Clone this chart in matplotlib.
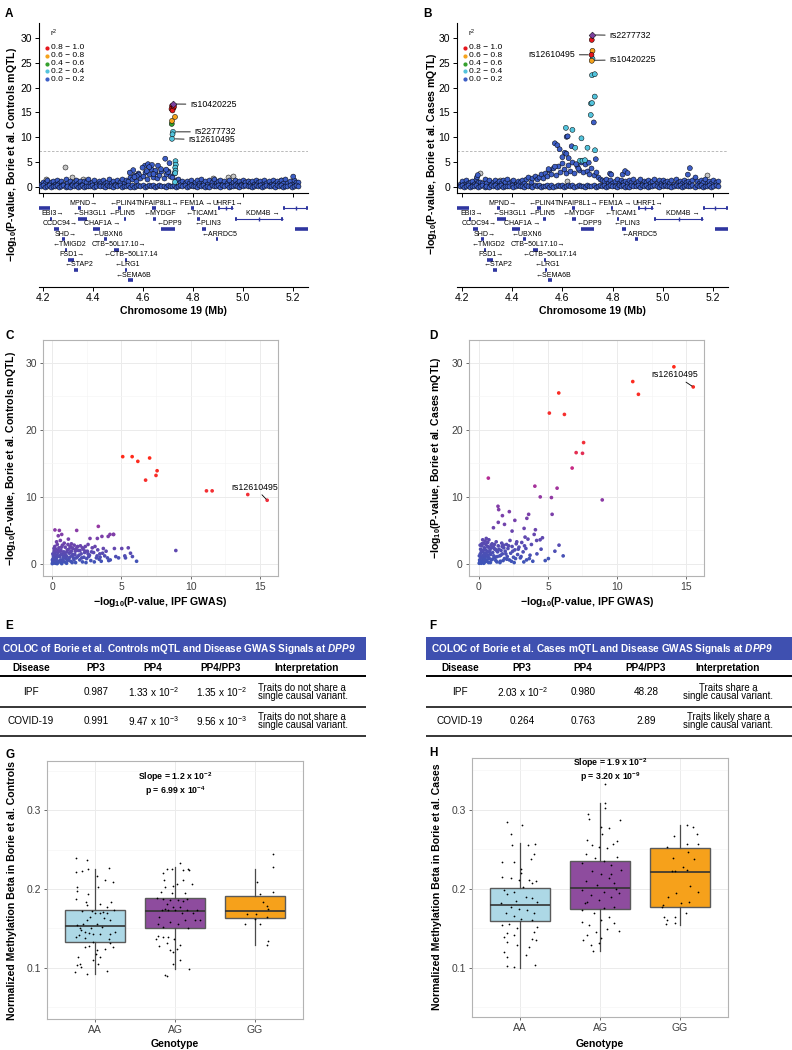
import numpy as np
import matplotlib
matplotlib.use("Agg")
import matplotlib.pyplot as plt
from matplotlib.colors import LinearSegmentedColormap
from matplotlib.patches import Rectangle

plt.rcParams['font.family'] = ['Liberation Sans', 'DejaVu Sans']
plt.rcParams['mathtext.fontset'] = 'custom'
plt.rcParams['mathtext.rm'] = 'Liberation Sans'
plt.rcParams['mathtext.it'] = 'Liberation Sans:italic'
plt.rcParams['mathtext.bf'] = 'Liberation Sans:bold'
plt.rcParams['mathtext.bfit'] = 'Liberation Sans:italic:bold'

# ---------------------------------------------------------------- data
# A/B: background SNPs (two layers), Mb and -log10 p
band_pos = [4.191, 4.199, 4.206, 4.216, 4.224, 4.231, 4.241, 4.248, 4.256, 4.265,
            4.273, 4.281, 4.290, 4.297, 4.306, 4.315, 4.322, 4.331, 4.339, 4.347,
            4.356, 4.364, 4.372, 4.381, 4.389, 4.398, 4.405, 4.414, 4.423, 4.430,
            4.439, 4.447, 4.456, 4.464, 4.473, 4.480, 4.489, 4.497, 4.506, 4.514,
            4.522, 4.531, 4.539, 4.548, 4.556, 4.564, 4.573, 4.581, 4.589, 4.598,
            4.606, 4.615, 4.623, 4.631, 4.640, 4.648, 4.657, 4.665, 4.673, 4.682,
            4.690, 4.698, 4.707, 4.715, 4.724, 4.732, 4.740, 4.749, 4.757, 4.766,
            4.774, 4.782, 4.791, 4.799, 4.808, 4.816, 4.824, 4.833, 4.841, 4.850,
            4.858, 4.866, 4.875, 4.883, 4.892, 4.900, 4.908, 4.917, 4.925, 4.934,
            4.942, 4.950, 4.959, 4.967, 4.976, 4.984, 4.992, 5.001, 5.009, 5.018,
            5.026, 5.034, 5.043, 5.051, 5.060, 5.068, 5.076, 5.085, 5.093, 5.102,
            5.110, 5.118, 5.127, 5.135, 5.144, 5.152, 5.160, 5.169, 5.177, 5.186,
            5.194, 5.202, 5.211, 5.219]
band_lo = [0.12, 0.31, 0.05, 0.22, 0.40, 0.08, 0.27, 0.15, 0.35, 0.03,
           0.19, 0.42, 0.10, 0.28, 0.06, 0.33, 0.17, 0.44, 0.09, 0.25,
           0.38, 0.04, 0.21, 0.30, 0.13, 0.41, 0.07, 0.26, 0.36, 0.11,
           0.24, 0.02, 0.39, 0.16, 0.29, 0.08, 0.43, 0.20, 0.34, 0.06,
           0.27, 0.14, 0.37, 0.10, 0.31, 0.05, 0.23, 0.40, 0.18, 0.33,
           0.09, 0.28, 0.45, 0.12, 0.36, 0.04, 0.25, 0.41, 0.15, 0.30,
           0.07, 0.38, 0.22, 0.11, 0.34, 0.03, 0.27, 0.43, 0.16, 0.32,
           0.08, 0.24, 0.39, 0.13, 0.29, 0.05, 0.35, 0.19, 0.42, 0.10,
           0.26, 0.06, 0.37, 0.21, 0.14, 0.40, 0.09, 0.31, 0.17, 0.44,
           0.04, 0.28, 0.12, 0.36, 0.23, 0.07, 0.33, 0.18, 0.41, 0.11,
           0.30, 0.05, 0.25, 0.39, 0.15, 0.34, 0.08, 0.27, 0.43, 0.13,
           0.22, 0.37, 0.06, 0.32, 0.19, 0.40, 0.10, 0.29, 0.14, 0.35,
           0.07, 0.24, 0.38, 0.16]
ctrl_band_hi = [0.62, 1.05, 0.78, 1.35, 0.55, 0.92, 1.20, 0.70, 1.48, 0.85,
                1.12, 0.66, 1.58, 0.90, 1.28, 0.58, 1.02, 1.40, 0.75, 1.15,
                0.68, 1.30, 0.95, 1.62, 0.72, 1.08, 1.45, 0.60, 1.22, 0.88,
                1.36, 0.74, 1.10, 1.55, 0.82, 1.25, 0.64, 1.42, 0.98, 1.70,
                0.86, 1.38, 1.15, 2.05, 1.60, 2.40, 1.30, 2.80, 1.85, 2.20,
                3.10, 1.70, 2.60, 3.60, 2.10, 3.05, 1.75, 2.45, 3.30, 1.90,
                2.70, 3.20, 2.25, 1.95, 2.90, 1.40, 1.65, 0.95, 1.28, 0.72,
                1.18, 0.80, 1.44, 0.63, 1.06, 1.32, 0.77, 1.52, 0.90, 1.21,
                0.69, 1.37, 0.96, 1.60, 0.74, 1.13, 1.46, 0.58, 1.27, 0.87,
                1.34, 0.71, 1.09, 1.50, 0.83, 1.24, 0.65, 1.41, 0.99, 1.17,
                0.76, 1.29, 0.61, 1.47, 0.93, 1.19, 0.70, 1.36, 0.84, 1.25,
                0.67, 1.43, 0.91, 1.16, 0.74, 1.33, 0.88, 1.52, 0.79, 1.22,
                0.69, 1.38, 0.95, 1.10]
case_band_hi = [0.70, 1.12, 0.60, 1.40, 0.85, 1.02, 1.28, 0.66, 1.55, 0.93,
                1.05, 0.72, 1.62, 0.88, 1.34, 0.64, 1.10, 1.48, 0.80, 1.20,
                0.74, 1.36, 1.02, 1.58, 0.78, 1.14, 1.50, 0.68, 1.30, 0.95,
                1.42, 0.80, 1.65, 1.95, 1.05, 1.80, 2.30, 1.55, 2.10, 2.60,
                1.90, 2.85, 2.20, 3.40, 2.70, 3.90, 2.50, 4.30, 3.10, 4.80,
                3.60, 2.90, 4.50, 3.30, 5.10, 2.80, 4.20, 3.50, 5.00, 3.00,
                4.60, 3.20, 2.60, 3.80, 2.40, 3.10, 2.00, 1.70, 1.45, 1.20,
                1.55, 0.90, 1.38, 0.74, 1.22, 1.60, 0.85, 1.35, 1.05, 1.28,
                0.78, 1.45, 1.02, 1.70, 0.82, 1.20, 1.52, 0.66, 1.30, 0.94,
                1.40, 0.78, 1.15, 1.58, 0.90, 1.32, 0.72, 1.48, 1.06, 1.24,
                0.84, 1.36, 0.68, 1.55, 1.00, 1.26, 0.78, 1.42, 0.92, 1.30,
                0.74, 1.50, 1.98, 1.22, 0.82, 1.40, 0.95, 1.60, 0.86, 1.28,
                0.75, 1.44, 1.02, 1.16]

# A: SNPs with LD class (0: 0-0.2 ... 4: 0.8-1.0)
ctrl_pos = [4.716, 4.720, 4.714, 4.722, 4.718, 4.724,
            4.716, 4.728, 4.715,
            4.720, 4.718, 4.716,
            4.730, 4.731, 4.729, 4.730, 4.729, 4.728,
            4.608, 4.620, 4.636, 4.660, 4.689, 4.706, 4.561, 4.547, 4.650, 4.598,
            4.672, 4.583, 4.700, 4.625, 5.201, 4.642, 4.615, 4.693, 4.575, 4.566]
ctrl_logp = [16.3, 16.0, 15.7, 15.9, 15.4, 16.2,
             13.3, 14.1, 12.7,
             11.1, 10.6, 9.7,
             5.2, 4.5, 3.9, 3.3, 2.8, 1.0,
             4.3, 4.6, 4.45, 4.3, 5.7, 4.8, 3.4, 2.9, 3.3, 3.9,
             3.6, 2.5, 3.0, 4.0, 2.1, 2.6, 3.2, 3.5, 2.2, 2.0]
ctrl_ld = [4, 4, 4, 4, 4, 4,
           3, 3, 2,
           1, 1, 1,
           1, 1, 1, 1, 1, 1,
           0, 0, 0, 0, 0, 0, 0, 0, 0, 0,
           0, 0, 0, 0, 0, 0, 0, 0, 0, 0]
ctrl_grey_pos = [4.288, 4.210, 4.315, 4.940, 4.960, 5.020, 4.240, 4.360, 4.880, 5.150]
ctrl_grey_logp = [3.96, 1.6, 2.1, 2.1, 2.2, 1.3, 1.1, 1.7, 1.8, 1.4]
ctrl_lead = (4.719, 16.7)

# B
case_pos = [4.717, 4.720, 4.716, 4.720, 4.717,
            4.718, 4.729, 4.729, 4.714, 4.718, 4.713,
            4.725,
            4.614, 4.640, 4.617, 4.621, 4.676, 4.570, 4.580, 4.637, 4.651, 4.589,
            4.700, 4.730, 4.610, 4.616, 4.733, 4.570, 4.670, 4.680, 4.690, 4.664,
            5.108, 5.100, 4.260, 4.263, 4.790, 4.795, 4.840, 4.850, 4.860, 4.545,
            4.600, 4.625, 4.655, 4.705]
case_logp = [29.6, 27.4, 26.6, 25.8, 25.4,
             22.5, 22.7, 18.2, 16.8, 16.9, 14.5,
             13.0,
             11.9, 11.5, 10.1, 10.2, 9.8, 8.8, 8.4, 8.2, 7.9, 7.6,
             7.9, 7.4, 6.9, 6.7, 5.6, 4.1, 5.3, 5.3, 5.4, 3.7,
             3.8, 2.5, 2.0, 2.4, 2.7, 2.5, 2.5, 3.2, 2.8, 3.6,
             6.0, 5.8, 4.6, 4.9]
case_ld = [4, 3, 4, 1, 3,
           1, 1, 1, 1, 1, 1,
           0,
           1, 1, 0, 0, 1, 0, 0, 0, 1, 0,
           1, 1, 0, 0, 0, 0, 1, 1, 1, 0,
           0, 0, 0, 0, 0, 0, 0, 0, 0, 0,
           0, 0, 0, 0]
case_grey_pos = [4.270, 5.175, 4.255, 4.620, 5.000, 4.350]
case_grey_logp = [2.75, 2.4, 1.4, 1.2, 1.1, 1.5]
case_lead = (4.719, 30.6)

ld_labels = ["0.8 \u2212 1.0", "0.6 \u2212 0.8", "0.4 \u2212 0.6", "0.2 \u2212 0.4", "0.0 \u2212 0.2"]

# gene track
gene_name = ["", "MPND\u2192", "\u2190PLIN4", "TNFAIP8L1\u2192", "FEM1A \u2192", "UHRF1\u2192", "",
             "EBI3\u2192", "\u2190SH3GL1", "\u2190PLIN5", "\u2190MYDGF", "\u2190TICAM1", "KDM4B \u2192",
             "CCDC94\u2192", "CHAF1A \u2192", "\u2190DPP9", "\u2190PLIN3", "",
             "SHD\u2192", "\u2190UBXN6", "\u2190ARRDC5",
             "\u2190TMIGD2", "CTB\u221250L17.10\u2192",
             "FSD1\u2192", "\u2190CTB\u221250L17.14",
             "\u2190STAP2", "\u2190LRG1",
             "\u2190SEMA6B"]
gene_start = [4.180, 4.340, 4.500, 4.637, 4.793, 4.900, 5.160,
              4.227, 4.340, 4.523, 4.640, 4.816, 4.967,
              4.243, 4.400, 4.673, 4.837, 5.207,
              4.277, 4.443, 4.891,
              4.289, 4.483,
              4.300, 4.527,
              4.323, 4.529,
              4.541]
gene_end = [4.227, 4.353, 4.513, 4.650, 4.803, 4.960, 5.260,
            4.237, 4.376, 4.533, 4.653, 4.827, 5.160,
            4.264, 4.430, 4.727, 4.853, 5.260,
            4.288, 4.456, 4.901,
            4.297, 4.504,
            4.323, 4.536,
            4.341, 4.537,
            4.560]
gene_row = [0, 0, 0, 0, 0, 0, 0, 1, 1, 1, 1, 1, 1, 2, 2, 2, 2, 2,
            3, 3, 3, 4, 4, 5, 5, 6, 6, 7]
gene_lab_x = [4.200, 4.360, 4.520, 4.658, 4.811, 4.940, 5.200,
              4.238, 4.388, 4.517, 4.667, 4.834, 5.079,
              4.269, 4.438, 4.707, 4.859, 5.200,
              4.289, 4.459, 4.907,
              4.307, 4.503,
              4.315, 4.550,
              4.342, 4.539,
              4.563]

# C/D: (-log10 p IPF GWAS, -log10 p controls mQTL, -log10 p cases mQTL)
ipf_snps = [(15.52, 9.5, 26.4), (14.12, 10.35, 29.4), (11.14, 10.9, 27.2), (11.55, 10.9, 25.3),
            (5.10, 16.0, 22.5), (5.78, 16.0, 25.5), (6.19, 15.3, 22.3), (7.04, 15.8, 16.6),
            (6.75, 12.5, 14.3), (7.50, 13.2, 16.5), (7.58, 13.9, 18.1), (8.93, 2.0, 9.55),
            (5.66, 1.6, 11.3), (5.25, 1.2, 9.9), (5.30, 0.9, 7.4), (4.44, 4.4, 10.0),
            (4.05, 4.1, 11.6), (0.68, 0.3, 12.8), (1.38, 2.5, 8.6), (1.43, 1.2, 8.1),
            (2.20, 2.4, 7.8), (3.60, 4.1, 7.4), (3.47, 1.0, 6.8), (1.70, 2.2, 7.2),
            (2.60, 1.5, 6.5), (1.40, 3.0, 6.2), (1.05, 1.1, 5.4), (1.85, 2.6, 5.9),
            (3.27, 3.8, 5.3), (4.09, 0.5, 5.1), (2.40, 1.9, 4.9), (0.21, 5.07, 3.0),
            (0.53, 5.0, 3.8), (0.70, 4.4, 2.5), (1.78, 5.0, 2.8), (3.34, 5.6, 4.0),
            (4.18, 4.4, 3.5), (4.43, 4.4, 3.6), (2.74, 3.8, 3.3), (1.18, 3.7, 2.2),
            (5.03, 2.3, 0.8), (4.60, 1.1, 3.9), (4.00, 0.9, 4.4),
            (0.02, 0.05, 0.1), (0.05, 0.3, 0.6), (0.08, 0.8, 0.2), (0.10, 1.2, 1.5), (0.12, 0.15, 2.2),
            (0.15, 1.9, 0.9), (0.18, 0.5, 1.8), (0.20, 2.6, 0.3), (0.22, 1.4, 2.7), (0.25, 0.1, 0.5),
            (0.28, 2.2, 1.2), (0.30, 0.7, 2.0), (0.33, 3.3, 3.1), (0.35, 1.0, 0.1), (0.38, 2.9, 1.6),
            (0.40, 0.2, 2.4), (0.42, 1.7, 0.7), (0.45, 4.2, 3.4), (0.48, 0.4, 1.1), (0.50, 2.4, 2.9),
            (0.55, 1.1, 0.4), (0.60, 3.5, 1.9), (0.62, 0.6, 2.6), (0.65, 2.0, 1.3), (0.70, 0.05, 0.2),
            (0.72, 1.5, 3.6), (0.75, 2.8, 0.8), (0.80, 0.9, 2.1), (0.85, 1.8, 1.4), (0.88, 3.1, 2.8),
            (0.90, 0.3, 0.6), (0.95, 2.5, 3.0), (1.00, 1.3, 1.7), (1.05, 0.1, 2.5), (1.10, 2.1, 0.9),
            (1.15, 2.9, 2.2), (1.20, 0.7, 1.0), (1.25, 1.6, 3.3), (1.30, 2.6, 0.3), (1.35, 0.4, 1.8),
            (1.40, 1.9, 2.7), (1.50, 2.3, 1.2), (1.55, 0.9, 0.4), (1.60, 2.8, 2.0), (1.65, 1.4, 3.1),
            (1.70, 0.2, 1.5), (1.80, 2.5, 2.4), (1.85, 1.1, 0.8), (1.90, 2.0, 1.9), (2.00, 0.6, 2.9),
            (2.05, 2.7, 1.1), (2.10, 1.5, 2.3), (2.20, 0.3, 0.6), (2.25, 2.2, 3.5), (2.30, 1.0, 1.6),
            (2.40, 2.6, 2.6), (2.50, 0.8, 1.0), (2.55, 1.9, 0.2), (2.60, 2.9, 2.1), (2.70, 1.3, 3.0),
            (2.80, 0.5, 1.4), (2.90, 2.4, 2.5), (3.00, 1.7, 0.9), (3.10, 2.6, 3.2), (3.20, 0.9, 1.8),
            (3.30, 2.1, 2.7), (3.45, 1.5, 0.6), (3.55, 0.4, 3.7), (3.70, 2.3, 1.3), (3.80, 1.2, 2.9),
            (3.90, 1.9, 0.4), (4.20, 0.6, 1.5), (4.50, 2.3, 2.2), (4.80, 0.9, 0.5), (5.50, 2.4, 1.9),
            (5.80, 1.1, 2.8), (6.10, 0.4, 1.2),
            (0.03, 0.6, 1.2), (0.06, 1.5, 0.4), (0.09, 0.2, 2.8), (0.14, 2.3, 1.0), (0.17, 1.0, 0.1),
            (0.24, 1.8, 2.0), (0.27, 0.4, 3.6), (0.32, 1.3, 0.8), (0.37, 0.05, 1.4), (0.44, 2.0, 0.3),
            (0.47, 1.2, 2.1), (0.52, 0.3, 1.6), (0.58, 1.9, 0.6), (0.64, 1.4, 3.2), (0.68, 2.5, 1.0),
            (0.78, 0.5, 1.7), (0.83, 1.2, 0.2), (0.92, 1.6, 2.4), (0.98, 0.8, 0.7), (1.08, 1.8, 1.2),
            (1.12, 0.5, 2.9), (1.22, 2.2, 0.5), (1.28, 1.0, 2.0), (1.33, 1.7, 1.1), (1.45, 0.2, 2.2),
            (1.52, 1.4, 0.2), (1.58, 0.6, 1.3), (1.68, 1.9, 2.6), (1.75, 0.9, 0.5), (1.95, 1.3, 1.5),
            (2.02, 2.0, 0.7), (2.15, 0.9, 2.7), (2.35, 1.7, 0.4), (2.45, 0.2, 1.9), (2.65, 1.1, 0.8),
            (2.85, 1.8, 2.2), (3.05, 0.3, 1.1), (3.25, 1.2, 0.3), (3.40, 0.7, 2.3), (3.65, 1.6, 0.8)]

# E/F: COLOC tables
coloc_disease = ["IPF", "COVID-19"]
ctrl_pp3 = ["0.987", "0.991"]
ctrl_pp4 = [r"1.33 x 10$^{-2}$", r"9.47 x 10$^{-3}$"]
ctrl_ratio = [r"1.35 x 10$^{-2}$", r"9.56 x 10$^{-3}$"]
ctrl_interp = ["Traits do not share a\nsingle causal variant.",
               "Traits do not share a\nsingle causal variant."]
case_pp3 = [r"2.03 x 10$^{-2}$", "0.264"]
case_pp4 = ["0.980", "0.763"]
case_ratio = ["48.28", "2.89"]
case_interp = ["Traits share a\nsingle causal variant.",
               "Traits likely share a\nsingle causal variant."]

# G/H: methylation by genotype
genotypes = ["AA", "AG", "GG"]
ctrl_q1 = [0.133, 0.151, 0.163]
ctrl_med = [0.153, 0.172, 0.172]
ctrl_q3 = [0.173, 0.188, 0.191]
ctrl_whislo = [0.092, 0.098, 0.129]
ctrl_whishi = [0.225, 0.2275, 0.226]
case_q1 = [0.1595, 0.174, 0.177]
case_med = [0.179, 0.201, 0.221]
case_q3 = [0.2005, 0.235, 0.2515]
case_whislo = [0.100, 0.1215, 0.154]
case_whishi = [0.2575, 0.308, 0.280]

# jittered samples: (offset from group centre, beta)
ctrl_aa = [(-0.24, 0.239), (-0.10, 0.237), (-0.16, 0.223), (-0.24, 0.221), (-0.09, 0.225),
           (0.18, 0.227), (0.13, 0.212), (0.22, 0.209), (0.02, 0.216), (0.04, 0.203),
           (-0.22, 0.202), (-0.23, 0.198), (-0.24, 0.187), (-0.09, 0.194), (-0.11, 0.184),
           (-0.10, 0.180), (0.20, 0.183), (0.15, 0.177), (0.06, 0.181), (-0.16, 0.172),
           (-0.04, 0.172), (0.00, 0.170), (0.06, 0.1695), (0.10, 0.171), (0.15, 0.169),
           (0.24, 0.173), (0.19, 0.160), (0.11, 0.163), (-0.06, 0.1645), (-0.10, 0.160),
           (-0.15, 0.156), (-0.19, 0.151), (-0.22, 0.154), (-0.17, 0.1485), (-0.13, 0.1456),
           (-0.24, 0.139), (-0.20, 0.141), (-0.08, 0.144), (-0.02, 0.143), (0.06, 0.1426),
           (0.19, 0.143), (0.25, 0.1456), (0.17, 0.137), (0.13, 0.124), (0.23, 0.1265),
           (0.19, 0.131), (-0.03, 0.133), (-0.08, 0.127), (-0.13, 0.1265), (0.02, 0.122),
           (0.01, 0.118), (0.06, 0.114), (-0.21, 0.114), (-0.19, 0.105), (-0.22, 0.103),
           (-0.17, 0.101), (-0.25, 0.095), (-0.10, 0.092), (0.15, 0.096), (-0.02, 0.110),
           (0.04, 0.105), (-0.05, 0.150), (0.03, 0.155), (0.09, 0.152), (-0.12, 0.138)]
ctrl_ag = [(-0.145, 0.220), (-0.104, 0.226), (-0.042, 0.225), (0.063, 0.233), (0.104, 0.224),
           (0.167, 0.226), (0.096, 0.212), (0.208, 0.207), (0.179, 0.224), (-0.137, 0.211),
           (-0.125, 0.203), (-0.021, 0.204), (0.021, 0.207), (-0.229, 0.188), (-0.154, 0.187),
           (-0.063, 0.186), (0.042, 0.186), (0.146, 0.187), (0.271, 0.173), (0.31, 0.160),
           (0.167, 0.151), (0.083, 0.169), (-0.021, 0.177), (-0.104, 0.181), (-0.196, 0.1645),
           (-0.208, 0.156), (-0.145, 0.152), (-0.063, 0.158), (0.042, 0.156), (0.125, 0.160),
           (-0.237, 0.137), (-0.208, 0.140), (-0.145, 0.139), (-0.104, 0.131), (-0.063, 0.122),
           (-0.021, 0.120), (0.021, 0.124), (0.063, 0.129), (-0.013, 0.137), (-0.083, 0.139),
           (0.063, 0.110), (-0.021, 0.105), (-0.125, 0.0905), (-0.104, 0.089), (0.179, 0.098),
           (-0.196, 0.127), (0.25, 0.160), (0.229, 0.1695), (0.0, 0.173), (0.063, 0.177),
           (0.146, 0.173), (-0.167, 0.173), (-0.125, 0.175), (-0.083, 0.173), (0.104, 0.185),
           (-0.04, 0.195), (0.13, 0.195), (-0.18, 0.196)]
ctrl_gg = [(0.23, 0.2445), (0.22, 0.2275), (0.23, 0.1966), (0.03, 0.2085), (0.06, 0.1936),
           (0.10, 0.1835), (0.15, 0.178), (0.16, 0.1746), (-0.10, 0.1688), (0.01, 0.1688),
           (0.15, 0.1645), (-0.13, 0.1561), (0.06, 0.1561), (0.0, 0.1624), (0.16, 0.1337),
           (0.15, 0.1286)]
case_aa = [(-0.166, 0.284), (0.03, 0.2807), (-0.116, 0.2693), (-0.10, 0.2553), (0.10, 0.2553),
           (0.187, 0.2566), (0.18, 0.2435), (0.14, 0.2372), (-0.23, 0.2342), (-0.075, 0.2338),
           (0.01, 0.2245), (0.017, 0.2203), (-0.22, 0.2144), (-0.116, 0.2131), (-0.012, 0.211),
           (0.11, 0.211), (0.195, 0.2101), (0.154, 0.2068), (0.04, 0.2025), (-0.20, 0.1983),
           (-0.075, 0.1962), (-0.158, 0.1932), (0.07, 0.1899), (0.154, 0.1878), (0.216, 0.1836),
           (-0.054, 0.1848), (-0.24, 0.1823), (-0.116, 0.177), (-0.012, 0.1749), (0.09, 0.1728),
           (0.174, 0.1694), (-0.178, 0.1686), (-0.075, 0.1652), (0.017, 0.1622), (0.154, 0.1601),
           (-0.22, 0.1538), (-0.137, 0.1559), (-0.033, 0.1508), (0.216, 0.1517), (0.174, 0.1454),
           (-0.158, 0.1441), (-0.20, 0.139), (-0.075, 0.1411), (0.154, 0.1369), (0.195, 0.1348),
           (-0.166, 0.1327), (-0.033, 0.1285), (0.11, 0.1264), (-0.20, 0.1201), (-0.166, 0.1137),
           (0.07, 0.1158), (-0.166, 0.102), (-0.075, 0.1003), (0.187, 0.1032)]
case_ag = [(0.058, 0.3325), (0.058, 0.309), (0.058, 0.3019), (-0.15, 0.2947), (-0.137, 0.288),
           (0.249, 0.2863), (0.008, 0.2779), (0.112, 0.2766), (0.029, 0.2693), (-0.158, 0.2617),
           (0.216, 0.2609), (-0.095, 0.2553), (0.166, 0.2566), (-0.012, 0.2524), (0.091, 0.2512),
           (-0.178, 0.2435), (0.216, 0.2406), (-0.066, 0.2385), (0.05, 0.2355), (-0.22, 0.2326),
           (0.133, 0.2304), (0.257, 0.2241), (-0.095, 0.222), (0.008, 0.2191), (0.112, 0.2136),
           (-0.178, 0.2093), (0.174, 0.2072), (-0.033, 0.2051), (-0.22, 0.1983), (0.05, 0.1962),
           (0.237, 0.1941), (-0.116, 0.192), (0.133, 0.1899), (-0.012, 0.1857), (-0.158, 0.1836),
           (0.174, 0.1773), (-0.22, 0.1731), (0.05, 0.1752), (-0.075, 0.1689), (0.112, 0.1647),
           (-0.22, 0.1584), (0.008, 0.1605), (0.174, 0.1563), (-0.137, 0.1542), (0.237, 0.1466),
           (0.091, 0.1492), (-0.054, 0.1458), (-0.158, 0.1416), (-0.207, 0.1352), (0.008, 0.1373),
           (-0.116, 0.1289), (-0.012, 0.131), (-0.083, 0.1205), (0.2, 0.2), (-0.19, 0.182),
           (0.14, 0.218)]
case_gg = [(0.091, 0.2807), (0.166, 0.2779), (-0.075, 0.2669), (0.207, 0.2693), (-0.166, 0.2533),
           (0.083, 0.2566), (0.228, 0.2566), (0.104, 0.2469), (-0.083, 0.2385), (0.174, 0.2372),
           (0.033, 0.2279), (-0.104, 0.222), (-0.062, 0.222), (0.091, 0.2241), (0.124, 0.2034),
           (0.228, 0.1962), (-0.05, 0.1949), (-0.145, 0.1899), (0.116, 0.1836), (0.008, 0.1815),
           (-0.207, 0.1794), (-0.228, 0.1765), (0.075, 0.1689), (-0.20, 0.1647), (-0.062, 0.1647),
           (-0.166, 0.1605), (-0.062, 0.1563), (-0.174, 0.1555)]

# ---------------------------------------------------------------- style
LD_COLS = ["#3D5EC6", "#52C3DC", "#33A02C", "#F5A21B", "#E5161C"]
GREY = "#C6C6C6"
LEAD_COL = "#7B3F9E"
GENE_COL = "#2F36A0"
HEAD_COL = "#3F50B0"
BOX_COLS = ["#ADD8E6", "#8E4C9E", "#F6A11B"]
qq_cmap = LinearSegmentedColormap.from_list(
    "qq", [(0, "#3D55B8"), (0.15, "#6646AE"), (0.32, "#8A3BA6"),
           (0.47, "#C2288F"), (0.6, "#F0303A"), (1, "#FF2A1A")])

W, H = 792, 1050
fig = plt.figure(figsize=(W / 100, H / 100), dpi=100)


def add_ax(x0, y0, x1, y1):
    # axes from pixel box (top-left origin)
    return fig.add_axes([x0 / W, 1 - y1 / H, (x1 - x0) / W, (y1 - y0) / H])


def ftext(x, y, s, **kw):
    fig.text(x / W, 1 - y / H, s, **kw)


def locus_panel(x0, x1, xlim, hi_y, pos, logp, ld, gpos, glogp, lead, labels):
    ax = add_ax(x0, 23, x1, 193)
    pt = dict(s=13, edgecolors="black", linewidths=0.35)
    ax.scatter(gpos, glogp, color=GREY, zorder=2, **pt)
    ax.scatter(band_pos, hi_y, color=LD_COLS[0], zorder=3, **pt)
    ax.scatter(band_pos, band_lo, color=LD_COLS[0], zorder=3, **pt)
    order = np.argsort(ld, kind="stable")
    ax.scatter(np.array(pos)[order], np.array(logp)[order],
               color=[LD_COLS[ld[i]] for i in order], zorder=4, **pt)
    ax.scatter([lead[0]], [lead[1]], marker="D", s=12, color=LEAD_COL,
               edgecolors="black", linewidths=0.35, zorder=5)
    ax.axhline(7.3, color="#B0B0B0", lw=0.6, ls=(0, (3, 2)), zorder=1)
    for txt, xy, xyt, ha in labels:
        ax.annotate(txt, xy=xy, xytext=xyt, ha=ha, va="center", fontsize=6.3,
                    arrowprops=dict(arrowstyle="-", lw=0.6, color="black",
                                    shrinkA=1, shrinkB=2))
    # r2 legend
    ax.text(0.042, 0.94, "r$^{2}$", transform=ax.transAxes, fontsize=5.5, va="center")
    for i, lab in enumerate(ld_labels):
        yy = 0.853 - i * 0.046
        ax.scatter([0.03], [yy], s=4, color=LD_COLS[4 - i], transform=ax.transAxes,
                   clip_on=False, zorder=6)
        ax.text(0.046, yy, lab, transform=ax.transAxes, fontsize=6, va="center")
    ax.set_xlim(xlim)
    ax.set_ylim(-1.2, 33)
    ax.set_yticks([0, 5, 10, 15, 20, 25, 30])
    ax.set_xticks([4.2, 4.4, 4.6, 4.8, 5.0, 5.2])
    ax.tick_params(axis="x", labelbottom=False, length=3, width=0.7)
    ax.tick_params(axis="y", labelsize=7.5, length=3, width=0.7, pad=2)
    for s in ["top", "right"]:
        ax.spines[s].set_visible(False)
    ax.spines["left"].set_linewidth(0.8)
    ax.spines["bottom"].set_linewidth(0.8)

    g = add_ax(x0, 193, x1, 287)
    for s, e, r, lab, lx in zip(gene_start, gene_end, gene_row, gene_name, gene_lab_x):
        if e - s > 0.056:
            g.plot([s, e], [r, r], color=GENE_COL, lw=0.8, solid_capstyle="butt")
            g.plot([s, s + 0.008], [r, r], color=GENE_COL, lw=2.6, solid_capstyle="butt")
            g.plot([e - 0.008, e], [r, r], color=GENE_COL, lw=2.6, solid_capstyle="butt")
            g.plot([(s + e) / 2], [r], marker="|", ms=3, color=GENE_COL)
        else:
            g.plot([s, e], [r, r], color=GENE_COL, lw=2.6, solid_capstyle="butt")
        if lab:
            g.text(lx, r - 0.5, lab, ha="center", va="center", fontsize=5.0)
    g.set_xlim(xlim)
    g.set_ylim(7.64, -1.49)
    g.set_yticks([])
    g.set_xticks([4.2, 4.4, 4.6, 4.8, 5.0, 5.2])
    g.set_xticklabels(["4.2", "4.4", "4.6", "4.8", "5.0", "5.2"])
    g.tick_params(axis="x", labelsize=7.5, length=3, width=0.7, pad=1.5)
    for s in ["top", "right", "left"]:
        g.spines[s].set_visible(False)
    g.spines["bottom"].set_linewidth(0.8)
    g.patch.set_alpha(0)
    return ax


def gg_style(ax):
    ax.set_axisbelow(True)
    ax.grid(True, which="major", color="#EBEBEB", lw=0.7)
    ax.grid(True, which="minor", color="#F5F5F5", lw=0.5)
    for s in ax.spines.values():
        s.set_color("#B3B3B3")
        s.set_linewidth(0.8)
    ax.tick_params(which="major", length=2.5, width=0.6, color="#555555",
                   labelcolor="#404040", labelsize=7.5, pad=2)
    ax.tick_params(which="minor", length=0)


def qq_panel(x0, x1, xlim, col, label_xy, label_txt):
    ax = add_ax(x0, 340, x1, 576)
    xs = np.array([p[0] for p in ipf_snps])
    ys = np.array([p[col] for p in ipf_snps])
    v = ys / ys.max()
    order = np.argsort(v)
    ax.scatter(xs[order], ys[order], c=v[order], cmap=qq_cmap, vmin=0, vmax=1,
               s=7, linewidths=0, zorder=3)
    lead_i = int(np.argmax(xs))
    ax.annotate(label_txt, xy=(xs[lead_i], ys[lead_i]), xytext=label_xy, ha="center",
                va="center", fontsize=6.3,
                arrowprops=dict(arrowstyle="-", lw=0.6, color="black", shrinkA=0, shrinkB=1))
    ax.set_xlim(xlim)
    ax.set_ylim(-1.8, 33.4)
    ax.set_xticks([0, 5, 10, 15])
    ax.set_yticks([0, 10, 20, 30])
    ax.set_xticks([2.5, 7.5, 12.5], minor=True)
    ax.set_yticks([5, 15, 25], minor=True)
    gg_style(ax)
    return ax


def coloc_table(x0, x1, title, cols, pp3, pp4, ratio, interp, interp_x, interp_ha):
    ax = add_ax(x0, 637, x1, 737)
    w = x1 - x0
    ax.set_xlim(0, w)
    ax.set_ylim(100, 0)
    ax.axis("off")
    ax.add_patch(Rectangle((0, 0), w, 23, color=HEAD_COL, lw=0))
    ax.text(cols[0] - 29, 11.5, title, color="white", fontsize=7.2, fontweight="bold",
            va="center", ha="left")
    heads = ["Disease", "PP3", "PP4", "PP4/PP3", "Interpretation"]
    for hx, hd in zip(cols, heads):
        ax.text(hx, 31, hd, ha="center", va="center", fontsize=7.2, fontweight="bold")
    ax.plot([0, w], [39, 39], color="black", lw=1.4)
    for i, yy in enumerate([55, 84]):
        ax.text(cols[0], yy, coloc_disease[i], ha="center", va="center", fontsize=7.2)
        ax.text(cols[1], yy, pp3[i], ha="center", va="center", fontsize=7.2)
        ax.text(cols[2], yy, pp4[i], ha="center", va="center", fontsize=7.2)
        ax.text(cols[3], yy, ratio[i], ha="center", va="center", fontsize=7.2)
        ax.text(interp_x, yy, interp[i], ha=interp_ha, va="center", fontsize=6.9,
                linespacing=0.85, multialignment=interp_ha)
        ax.plot([0, w], [yy + 14.5, yy + 14.5], color="black", lw=1.1)


def box_panel(x0, y0, x1, y1, ylim, q1, med, q3, lo, hi, groups, ann, ann_x, ann_y):
    ax = add_ax(x0, y0, x1, y1)
    stats = [dict(q1=a, med=b, q3=c, whislo=d, whishi=e, label=gt)
             for a, b, c, d, e, gt in zip(q1, med, q3, lo, hi, genotypes)]
    bp = ax.bxp(stats, positions=[1, 2, 3], widths=0.75, showfliers=False,
                showcaps=False, patch_artist=True,
                boxprops=dict(edgecolor="#5A5A5A", linewidth=1.0),
                whiskerprops=dict(color="#4A4A4A", linewidth=0.9),
                medianprops=dict(color="#333333", linewidth=1.2))
    for patch, colr in zip(bp["boxes"], BOX_COLS):
        patch.set_facecolor(colr)
    for k, grp in enumerate(groups):
        ax.scatter([k + 1 + d for d, _ in grp], [b for _, b in grp], s=1.6,
                   color="black", linewidths=0, zorder=4)
    ax.text(ann_x, ann_y, ann, ha="center", va="center", fontsize=6.3,
            fontweight="bold", linespacing=1.05)
    ax.set_xlim(0.4, 3.6)
    ax.set_ylim(ylim)
    ax.set_yticks([0.1, 0.2, 0.3])
    ax.set_yticklabels(["0.1", "0.2", "0.3"])
    ax.set_yticks([0.05, 0.15, 0.25, 0.35], minor=True)
    gg_style(ax)
    return ax


# ---------------------------------------------------------------- A / B
locus_panel(39, 308, (4.184, 5.26), ctrl_band_hi, ctrl_pos, ctrl_logp, ctrl_ld,
            ctrl_grey_pos, ctrl_grey_logp, ctrl_lead,
            [("rs10420225", (4.721, 16.7), (4.788, 16.65), "left"),
             ("rs2277732", (4.722, 11.1), (4.806, 11.1), "left"),
             ("rs12610495", (4.718, 9.7), (4.781, 9.5), "left")])
locus_panel(457, 728, (4.18, 5.26), case_band_hi, case_pos, case_logp, case_ld,
            case_grey_pos, case_grey_logp, case_lead,
            [("rs2277732", (4.721, 30.6), (4.787, 30.5), "left"),
             ("rs12610495", (4.714, 26.6), (4.651, 26.6), "right"),
             ("rs10420225", (4.719, 25.5), (4.787, 25.6), "left")])

ylab_kw = dict(rotation=90, ha="center", va="center", fontsize=7.6, fontweight="bold")
ftext(12, 154, r"$\mathbf{-log_{10}}$(P-value, Borie et al. Controls mQTL)", **ylab_kw)
ftext(432, 154, r"$\mathbf{-log_{10}}$(P-value, Borie et al. Cases mQTL)", **ylab_kw)
ftext(173, 311, "Chromosome 19 (Mb)", ha="center", va="center", fontsize=7.6, fontweight="bold")
ftext(592, 311, "Chromosome 19 (Mb)", ha="center", va="center", fontsize=7.6, fontweight="bold")

# ---------------------------------------------------------------- C / D
qq_panel(43, 278, (-0.65, 16.3), 1, (14.64, 11.4), "rs12610495")
qq_panel(469, 704, (-0.72, 16.3), 2, (14.2, 28.2), "rs12610495")
ftext(11, 458, r"$\mathbf{-log_{10}}$(P-value, Borie et al. Controls mQTL)", **ylab_kw)
ftext(436, 458, r"$\mathbf{-log_{10}}$(P-value, Borie et al. Cases mQTL)", **ylab_kw)
ftext(160, 602, r"$\mathbf{-log_{10}}$(P-value, IPF GWAS)", ha="center", va="center",
      fontsize=7.6, fontweight="bold")
ftext(587, 602, r"$\mathbf{-log_{10}}$(P-value, IPF GWAS)", ha="center", va="center",
      fontsize=7.6, fontweight="bold")

# ---------------------------------------------------------------- E / F
coloc_table(0, 366, r"COLOC of Borie et al. Controls mQTL and Disease GWAS Signals at $\mathbfit{DPP9}$",
            [31, 96, 153, 221, 307], ctrl_pp3, ctrl_pp4, ctrl_ratio, ctrl_interp, 258, "left")
coloc_table(426, 792, r"COLOC of Borie et al. Cases mQTL and Disease GWAS Signals at $\mathbfit{DPP9}$",
            [34, 96, 157, 220, 302], case_pp3, case_pp4, case_ratio, case_interp, 302, "center")

# ---------------------------------------------------------------- G / H
box_panel(47, 761, 303, 1019, (0.0348, 0.3627), ctrl_q1, ctrl_med, ctrl_q3,
          ctrl_whislo, ctrl_whishi, [ctrl_aa, ctrl_ag, ctrl_gg],
          "Slope = 1.2 x 10$^{\\mathbf{-2}}$\np = 6.99 x 10$^{\\mathbf{-4}}$", 2.0, 0.3335)
box_panel(472, 758, 728, 1017, (0.0376, 0.3654), case_q1, case_med, case_q3,
          case_whislo, case_whishi, [case_aa, case_ag, case_gg],
          "Slope = 1.9 x 10$^{\\mathbf{-2}}$\np = 3.20 x 10$^{\\mathbf{-9}}$", 2.13, 0.3503)
ftext(12, 890, "Normalized Methylation Beta in Borie et al. Controls", **ylab_kw)
ftext(437, 887, "Normalized Methylation Beta in Borie et al. Cases", **ylab_kw)
ftext(175, 1044, "Genotype", ha="center", va="center", fontsize=7.6, fontweight="bold")
ftext(600, 1044, "Genotype", ha="center", va="center", fontsize=7.6, fontweight="bold")

# ---------------------------------------------------------------- panel letters
for lx, ly, letter in [(5, 14, "A"), (423, 14, "B"), (5, 336, "C"), (429, 336, "D"),
                       (5, 626, "E"), (429, 626, "F"), (5, 755, "G"), (429, 753, "H")]:
    ftext(lx, ly, letter, ha="left", va="center", fontsize=8.5, fontweight="bold")

fig.savefig("out.png", dpi=100)
